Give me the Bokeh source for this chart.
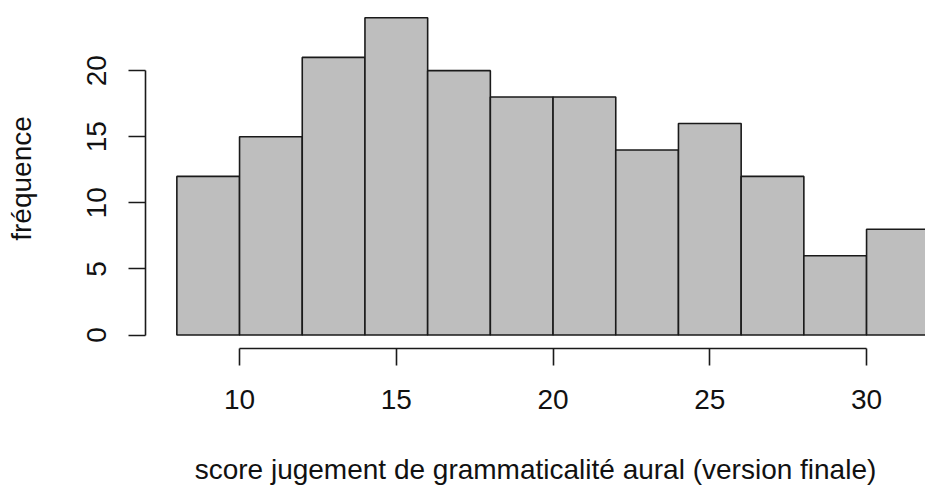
from bokeh.plotting import figure
from bokeh.models import Range1d, FixedTicker, ColumnDataSource
from bokeh.embed import file_html
from bokeh.resources import INLINE

# data
bin_left = [8, 10, 12, 14, 16, 18, 20, 22, 24, 26, 28, 30]
bin_right = [10, 12, 14, 16, 18, 20, 22, 24, 26, 28, 30, 32]
counts = [12, 15, 21, 24, 20, 18, 18, 14, 16, 12, 6, 8]
x_ticks = [10, 15, 20, 25, 30]
y_ticks = [0, 5, 10, 15, 20]
x_title = "score jugement de grammaticalité aural (version finale)"
y_title = "fréquence"

FONT = "Liberation Sans"

p = figure(width=925, height=488, output_backend="svg", toolbar_location=None,
           x_range=Range1d(7.0, 31.88), y_range=Range1d(-1.02, 24.7),
           min_border_left=145, min_border_right=0, min_border_top=8,
           min_border_bottom=140)
p.outline_line_color = None
p.xgrid.visible = False
p.ygrid.visible = False
p.background_fill_color = "white"
p.border_fill_color = "white"

src = ColumnDataSource(dict(left=bin_left, right=bin_right, top=counts,
                            bottom=[0] * len(counts)))
p.quad(left="left", right="right", top="top", bottom="bottom", source=src,
       fill_color="#bebebe", line_color="#1a1a1a", line_width=1.6)

for ax, ticks, title in ((p.xaxis[0], x_ticks, x_title), (p.yaxis[0], y_ticks, y_title)):
    ax.ticker = FixedTicker(ticks=ticks)
    ax.bounds = (ticks[0], ticks[-1])
    ax.axis_line_color = "#1a1a1a"
    ax.axis_line_width = 1.6
    ax.major_tick_line_color = "#1a1a1a"
    ax.major_tick_line_width = 1.6
    ax.major_tick_out = 17
    ax.major_tick_in = 0
    ax.minor_tick_line_color = None
    ax.major_label_text_font = FONT
    ax.major_label_text_font_size = "28px"
    ax.major_label_text_color = "#111111"
    ax.axis_label = title
    ax.axis_label_text_font = FONT
    ax.axis_label_text_font_size = "28px"
    ax.axis_label_text_font_style = "normal"
    ax.axis_label_text_color = "#111111"

p.xaxis[0].major_label_standoff = 24
p.xaxis[0].axis_label_standoff = 42
p.yaxis[0].major_label_orientation = "vertical"
p.yaxis[0].major_label_standoff = 22
p.yaxis[0].axis_label_standoff = 48

open("out.html", "w").write(file_html(p, INLINE))
